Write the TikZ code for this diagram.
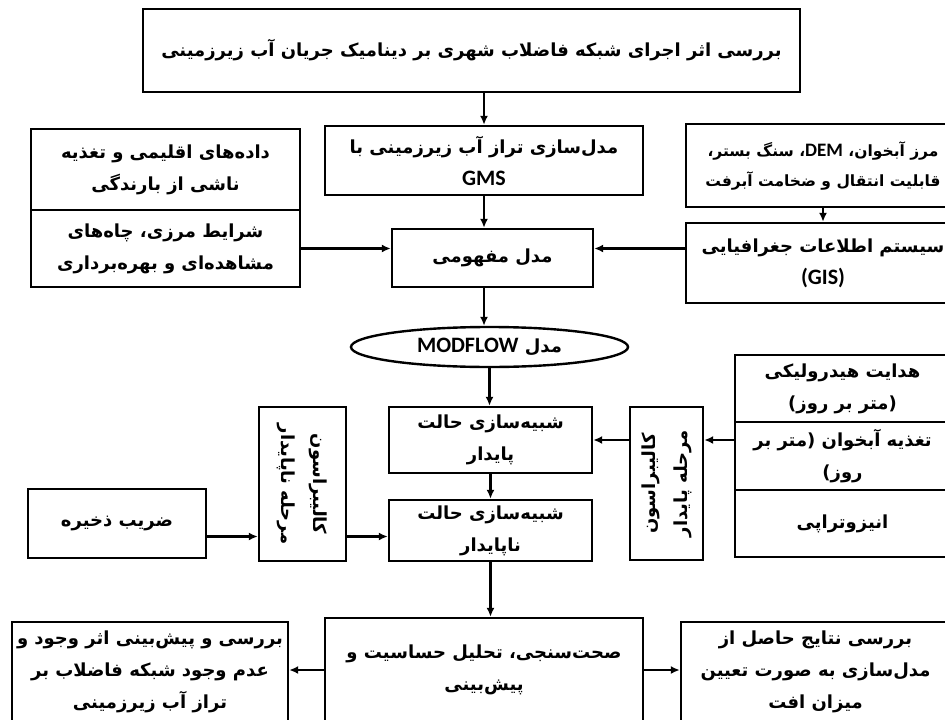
\documentclass[tikz,border=0pt]{standalone}
\usepackage{fontspec}
\usetikzlibrary{positioning,shapes.geometric,arrows.meta}
\TeXXeTstate=1
\newfontfamily\arabicfont[Script=Arabic]{DejaVu Sans}
\newfontfamily\latinfont{Carlito}
\newcommand{\faline}[1]{\beginR #1\endR}
\newcommand{\enword}[2][22]{\beginL{\latinfont\bfseries\fontsize{#1}{31}\selectfont #2}\endL{}}
\tikzstyle{box} = [
    rectangle,
    draw,
    line width = 2.4pt,
    text centered,
    align = center,
    inner sep = 2pt,
    font = \arabicfont\bfseries\fontsize{18}{32}\selectfont
]
\tikzstyle{model} = [
    ellipse,
    draw,
    line width = 2.4pt,
    text centered,
    inner sep = 0pt,
    font = \arabicfont\bfseries\fontsize{18}{32}\selectfont
]
\tikzstyle{flow} = [
    -{Latex[length = 9pt, width = 8pt]},
    line width = 2.4pt
]

\begin{document}
\begin{tikzpicture}[x = 1pt, y = -1pt]

    \useasboundingbox (0,0) rectangle (945,720);

    % study
    \node [box, minimum width = 657pt, minimum height = 83pt] (study) at (471.5,50.5) {\faline{بررسی اثر اجرای شبکه فاضلاب شهری بر دینامیک جریان آب زیرزمینی}};
    \node [box, minimum width = 318pt, minimum height = 69pt] (gms) at (484,160.5) {\faline{مدل‌سازی تراز آب زیرزمینی با}\\\enword{GMS}};

    % inputs left
    \node [box, minimum width = 269pt, minimum height = 81pt] (climate) at (165.5,169.5) {\faline{داده‌های اقلیمی و تغذیه}\\\faline{ناشی از بارندگی}};
    \node [box, minimum width = 269pt, minimum height = 77pt] (boundary) at (165.5,248.5) {\faline{شرایط مرزی، چاه‌های}\\\faline{مشاهده‌ای و بهره‌برداری}};

    % inputs right
    \node [box, minimum width = 274pt, minimum height = 83pt, font = \arabicfont\bfseries\fontsize{15.5}{30}\selectfont] (aquifer) at (823,165.5) {\faline{مرز آبخوان، \enword[19]{DEM}، سنگ بستر،}\\\faline{قابلیت انتقال و ضخامت آبرفت}};
    \node [box, minimum width = 274pt, minimum height = 80pt] (gis) at (823,263) {\faline{سیستم اطلاعات جغرافیایی}\\\enword{(GIS)}};

    % model
    \node [box, minimum width = 201pt, minimum height = 58pt] (concept) at (492.5,258) {\faline{مدل مفهومی}};
    \node [model, minimum width = 277pt, minimum height = 40pt] (modflow) at (489.5,347) {\faline{مدل \enword{MODFLOW}}};

    % simulation
    \node [box, minimum width = 203pt, minimum height = 66pt] (steady) at (490.5,440) {\faline{شبیه‌سازی حالت}\\\faline{پایدار}};
    \node [box, minimum width = 203pt, minimum height = 61pt] (unsteady) at (490.5,530.5) {\faline{شبیه‌سازی حالت}\\\faline{ناپایدار}};

    % calibration
    \node [box, rotate = -90, minimum width = 154pt, minimum height = 87pt] (calUnsteady) at (302.5,484) {\faline{کالیبراسون}\\\faline{مرحله ناپایدار}};
    \node [box, rotate = 90, minimum width = 153pt, minimum height = 73pt] (calSteady) at (666.5,483.5) {\faline{کالیبراسون}\\\faline{مرحله پایدار}};
    \node [box, minimum width = 178pt, minimum height = 69pt] (storage) at (117,523.5) {\faline{ضریب ذخیره}};

    % parameters
    \node [box, minimum width = 215pt, minimum height = 67pt] (hydraulic) at (842.5,388.5) {\faline{هدایت هیدرولیکی}\\\faline{(متر بر روز)}};
    \node [box, minimum width = 215pt, minimum height = 68pt] (recharge) at (842.5,456) {\faline{تغذیه آبخوان (متر بر}\\\faline{روز)}};
    \node [box, minimum width = 215pt, minimum height = 67pt] (anisotropy) at (842.5,523.5) {\faline{انیزوتراپی}};

    % results
    \node [box, minimum width = 318pt, minimum height = 104pt] (validation) at (484,670) {\faline{صحت‌سنجی، تحلیل حساسیت و}\\\faline{پیش‌بینی}};
    \node [box, minimum width = 276pt, minimum height = 100pt] (prediction) at (150,672) {\faline{بررسی و پیش‌بینی اثر وجود و}\\\faline{عدم وجود شبکه فاضلاب بر}\\\faline{تراز آب زیرزمینی}};
    \node [box, minimum width = 269pt, minimum height = 100pt] (drawdown) at (815.5,672) {\faline{بررسی نتایج حاصل از}\\\faline{مدل‌سازی به صورت تعیین}\\\faline{میزان افت}};

    \coordinate (calIn) at ([yshift = -6pt]unsteady.west);

    % arrows
    \draw [flow] (study.south -| gms.north) -- (gms.north);
    \draw [flow] (gms.south) -- (gms.south |- concept.north);
    \draw [flow] (aquifer.south) -- (gis.north);
    \draw [flow] (boundary.east) -- (boundary.east -| concept.west);
    \draw [flow] (boundary.east -| gis.west) -- (boundary.east -| concept.east);
    \draw [flow] (concept.south -| gms.south) -- (gms.south |- modflow.north);
    \draw [flow] (modflow.south) -- (modflow.south |- steady.north);
    \draw [flow] (steady.south) -- (unsteady.north);
    \draw [flow] (calIn -| storage.east) -- (calIn -| calUnsteady.south);
    \draw [flow] (calIn -| calUnsteady.north) -- (calIn);
    \draw [flow] (steady.east -| recharge.west) -- (steady.east -| calSteady.south);
    \draw [flow] (steady.east -| calSteady.north) -- (steady.east);
    \draw [flow] (unsteady.south) -- (unsteady.south |- validation.north);
    \draw [flow] (validation.west) -- (validation.west -| prediction.east);
    \draw [flow] (validation.east) -- (validation.east -| drawdown.west);

\end{tikzpicture}
\end{document}
